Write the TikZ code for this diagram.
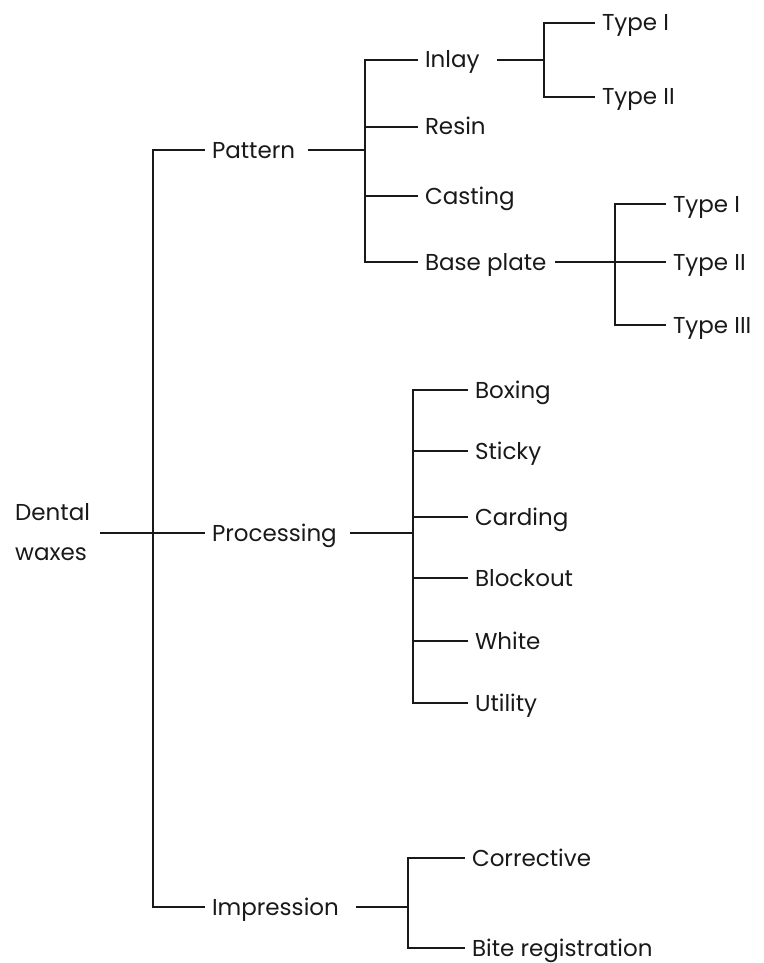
\documentclass[tikz,border=0pt]{standalone}
\usepackage{fontspec}
\newfontfamily\treefont{Poppins}
\begin{document}
\begin{tikzpicture}[x=1pt,y=-1pt,
  lbl/.style={anchor=west, inner xsep=7pt, inner ysep=0pt, outer sep=0pt,
    font=\treefont\fontsize{23}{26}\selectfont, text height=16pt, text depth=0pt, text=black!90},
  link/.style={line width=2pt, draw=black!90},
  feed/.style={link, shorten <=6pt}]
\useasboundingbox (0,0) rectangle (763,963);

% root
\node[anchor=west, inner sep=0pt, align=left, text=black!90,
  font=\treefont\fontsize{23}{40}\selectfont] (root) at (15,532) {Dental\\waxes};

% first level
\node[lbl] (pat) at (205,150) {Pattern};
\node[lbl] (proc) at (205,533) {Processing};
\node[lbl] (imp) at (205,907) {Impression};

% pattern children
\node[lbl] (inlay) at (418,60) {Inlay};
\node[lbl] (resin) at (418,127) {Resin};
\node[lbl] (cast) at (418,196) {Casting};
\node[lbl] (base) at (418,262) {Base plate};

\node[lbl] (in1) at (595,23) {Type I};
\node[lbl] (in2) at (595,97) {Type II};

\node[lbl] (bp1) at (666,204) {Type I};
\node[lbl] (bp2) at (666,262) {Type II};
\node[lbl] (bp3) at (666,325) {Type III};

% processing children
\node[lbl] (box) at (468,390) {Boxing};
\node[lbl] (sticky) at (468,451) {Sticky};
\node[lbl] (card) at (468,517) {Carding};
\node[lbl] (block) at (468,578) {Blockout};
\node[lbl] (white) at (468,641) {White};
\node[lbl] (util) at (468,703) {Utility};

% impression children
\node[lbl] (corr) at (465,858) {Corrective};
\node[lbl] (bite) at (465,948) {Bite registration};

% junction bars
\coordinate (mainbar) at (153,533);
\coordinate (patbar) at (365,150);
\coordinate (inbar) at (544,60);
\coordinate (bpbar) at (615,262);
\coordinate (procbar) at (413,533);
\coordinate (impbar) at (408,907);

% root to first level
\draw[link] ([xshift=10pt]root.east |- mainbar) -- (proc.west);
\draw[link] (pat.west) -| (mainbar) |- (imp.west);

% pattern branch
\draw[feed] (pat.east) -- (patbar);
\draw[link] (inlay.west) -| (patbar) |- (base.west);
\draw[link] (resin.west) -- (resin.west -| patbar);
\draw[link] (cast.west) -- (cast.west -| patbar);

\draw[feed, shorten <=10pt] (inlay.east) -- (inbar);
\draw[link] (in1.west) -| (inbar) |- (in2.west);

\draw[feed, shorten <=2pt] (base.east) -- (bp2.west);
\draw[link] (bp1.west) -| (bpbar) |- (bp3.west);

% processing branch
\draw[feed] (proc.east) -- (procbar);
\draw[link] (box.west) -| (procbar) |- (util.west);
\draw[link] (sticky.west) -- (sticky.west -| procbar);
\draw[link] (card.west) -- (card.west -| procbar);
\draw[link] (block.west) -- (block.west -| procbar);
\draw[link] (white.west) -- (white.west -| procbar);

% impression branch
\draw[feed, shorten <=10pt] (imp.east) -- (impbar);
\draw[link] (corr.west) -| (impbar) |- (bite.west);
\end{tikzpicture}
\end{document}
